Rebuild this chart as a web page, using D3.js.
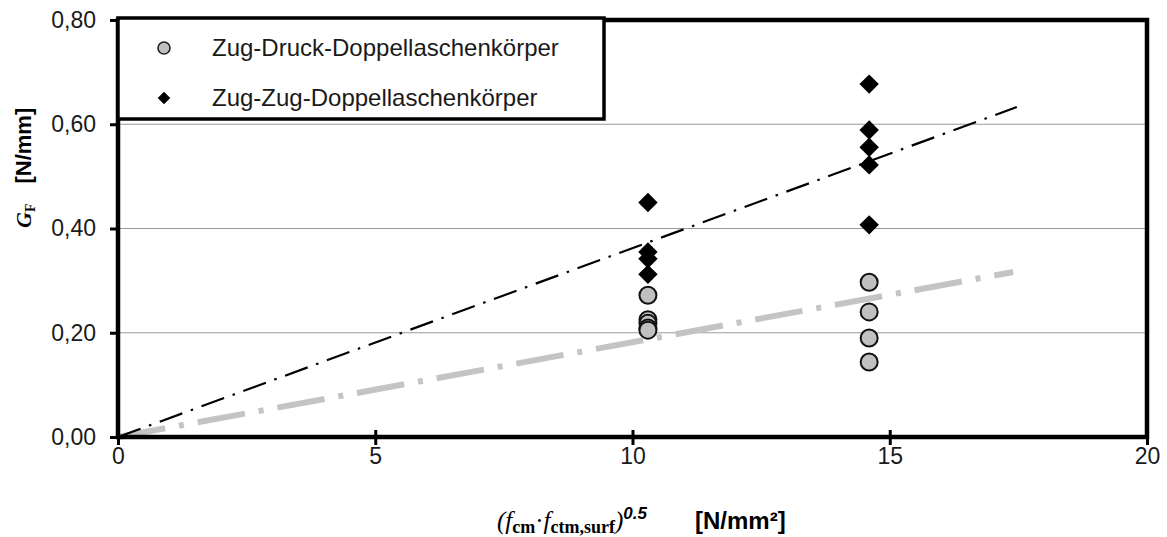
<!DOCTYPE html>
<html>
<head>
<meta charset="utf-8">
<script src="https://cdn.jsdelivr.net/npm/d3@7"></script>
<style>
  html, body { margin: 0; padding: 0; background: #fff; }
  svg { display: block; }
</style>
</head>
<body>
<svg id="chart" width="1167" height="537"></svg>
<script>
// Fracture energy G_F against (f_cm · f_ctm,surf)^0.5
const xTicks = [0, 5, 10, 15, 20];
const yTicks = [0, 0.2, 0.4, 0.6, 0.8];
const yTickLabels = ["0,00", "0,20", "0,40", "0,60", "0,80"];

// Zug-Druck-Doppellaschenkörper (grey circles)
const zdX = [10.3, 10.3, 10.3, 10.3, 10.3, 14.6, 14.6, 14.6, 14.6];
const zdY = [0.272, 0.225, 0.218, 0.209, 0.205, 0.297, 0.240, 0.190, 0.144];

// Zug-Zug-Doppellaschenkörper (black diamonds)
const zzX = [10.3, 10.3, 10.3, 10.3, 14.6, 14.6, 14.6, 14.6, 14.6];
const zzY = [0.450, 0.355, 0.342, 0.312, 0.677, 0.589, 0.556, 0.522, 0.407];

// Linear fits through the origin
const fitZZ = { x: [0, 17.47], y: [0, 0.633] };
const fitZD = { x: [0, 17.4], y: [0, 0.3165] };

const seriesNames = ["Zug-Druck-Doppellaschenkörper", "Zug-Zug-Doppellaschenkörper"];

const svg = d3.select("#chart");
const L = 118, R = 1147, T = 20, B = 437;
const x = d3.scaleLinear().domain([0, 20]).range([L, R]);
const y = d3.scaleLinear().domain([0, 0.8]).range([B, T]);

const sans = "'Liberation Sans', Arial, sans-serif";
const serif = "'Liberation Serif', 'Times New Roman', serif";

// horizontal gridlines
svg.append("g").selectAll("line")
  .data(yTicks.filter(v => v > 0 && v < 0.8))
  .join("line")
  .attr("x1", L).attr("x2", R)
  .attr("y1", d => y(d)).attr("y2", d => y(d))
  .attr("stroke", "#9a9a9a").attr("stroke-width", 1.2);

// trend lines
const lineGen = d3.line().x(d => x(d[0])).y(d => y(d[1]));
svg.append("path")
  .attr("d", lineGen(d3.zip(fitZD.x, fitZD.y)))
  .attr("fill", "none").attr("stroke", "#c4c4c4").attr("stroke-width", 6)
  .attr("stroke-dasharray", "48,14,5,14");
svg.append("path")
  .attr("d", lineGen(d3.zip(fitZZ.x, fitZZ.y)))
  .attr("fill", "none").attr("stroke", "#000").attr("stroke-width", 2.2)
  .attr("stroke-dasharray", "24,9,2.5,9");

// axes
const yAxis = d3.axisLeft(y).tickValues(yTicks).tickFormat((d, i) => yTickLabels[i]).tickSize(8).tickPadding(14);
const gy = svg.append("g").attr("transform", `translate(${L},0)`).call(yAxis);
const xAxis = d3.axisBottom(x).tickValues(xTicks).tickFormat(d3.format("d")).tickSize(8).tickPadding(3);
const gx = svg.append("g").attr("transform", `translate(0,${B})`).call(xAxis);
[gx, gy].forEach(g => {
  g.select(".domain").remove();
  g.selectAll(".tick line").attr("stroke", "#000").attr("stroke-width", 3);
  g.selectAll(".tick text").attr("font-family", sans).attr("font-size", 23).attr("fill", "#1a1a1a");
});
// x ticks cross the axis line
gx.selectAll(".tick line").attr("y1", -7).attr("y2", 8);

// plot frame
svg.append("rect")
  .attr("x", L).attr("y", T).attr("width", R - L).attr("height", B - T)
  .attr("fill", "none").attr("stroke", "#000").attr("stroke-width", 4.5);

// markers
const diamond = d3.symbol().type(d3.symbolDiamond2).size(240);
svg.append("g").selectAll("circle")
  .data(d3.zip(zdX, zdY)).join("circle")
  .attr("cx", d => x(d[0])).attr("cy", d => y(d[1])).attr("r", 8.5)
  .attr("fill", "#c0c0c0").attr("stroke", "#111").attr("stroke-width", 2);
svg.append("g").selectAll("path")
  .data(d3.zip(zzX, zzY)).join("path")
  .attr("d", diamond)
  .attr("transform", d => `translate(${x(d[0])},${y(d[1])})`)
  .attr("fill", "#000");

// legend
const lg = svg.append("g");
lg.append("rect").attr("x", 118).attr("y", 18).attr("width", 486).attr("height", 101)
  .attr("fill", "#fff").attr("stroke", "#000").attr("stroke-width", 3.5);
lg.append("circle").attr("cx", 164).attr("cy", 48).attr("r", 6)
  .attr("fill", "#c0c0c0").attr("stroke", "#222").attr("stroke-width", 1.6);
lg.append("path").attr("d", d3.symbol().type(d3.symbolDiamond2).size(100))
  .attr("transform", "translate(164,98)").attr("fill", "#000");
lg.selectAll("text").data(seriesNames).join("text")
  .attr("x", 212).attr("y", (d, i) => 56 + i * 50)
  .attr("font-family", sans).attr("font-size", 24).attr("fill", "#1a1a1a")
  .text(d => d);

// y axis title
const yt = svg.append("text")
  .attr("transform", "translate(31,228) rotate(-90)")
  .attr("font-size", 22).attr("font-weight", "bold");
yt.append("tspan").attr("font-family", serif).attr("font-style", "italic").text("G");
yt.append("tspan").attr("font-family", serif).attr("font-size", 14).attr("dy", 4).text("F");
yt.append("tspan").attr("font-family", sans).attr("dy", -4).attr("dx", 20).text("[N/mm]");

// x axis title
const xt = svg.append("text").attr("x", 497).attr("y", 529).attr("font-size", 25);
xt.append("tspan").attr("font-family", serif).attr("font-style", "italic").text("(f");
xt.append("tspan").attr("font-family", serif).attr("font-weight", "bold").attr("font-size", 18).attr("dy", 4).text("cm");
xt.append("tspan").attr("font-family", serif).attr("dy", -4).text("·");
xt.append("tspan").attr("font-family", serif).attr("font-style", "italic").text("f");
xt.append("tspan").attr("font-family", serif).attr("font-weight", "bold").attr("font-size", 18).attr("dy", 4).text("ctm,surf");
xt.append("tspan").attr("font-family", serif).attr("font-style", "italic").attr("dy", -4).text(")");
xt.append("tspan").attr("font-family", sans).attr("font-style", "italic").attr("font-weight", "bold")
  .attr("font-size", 17).attr("dy", -10).text("0.5");
svg.append("text").attr("x", 695).attr("y", 529)
  .attr("font-family", sans).attr("font-weight", "bold").attr("font-size", 24).text("[N/mm²]");
</script>
</body>
</html>
